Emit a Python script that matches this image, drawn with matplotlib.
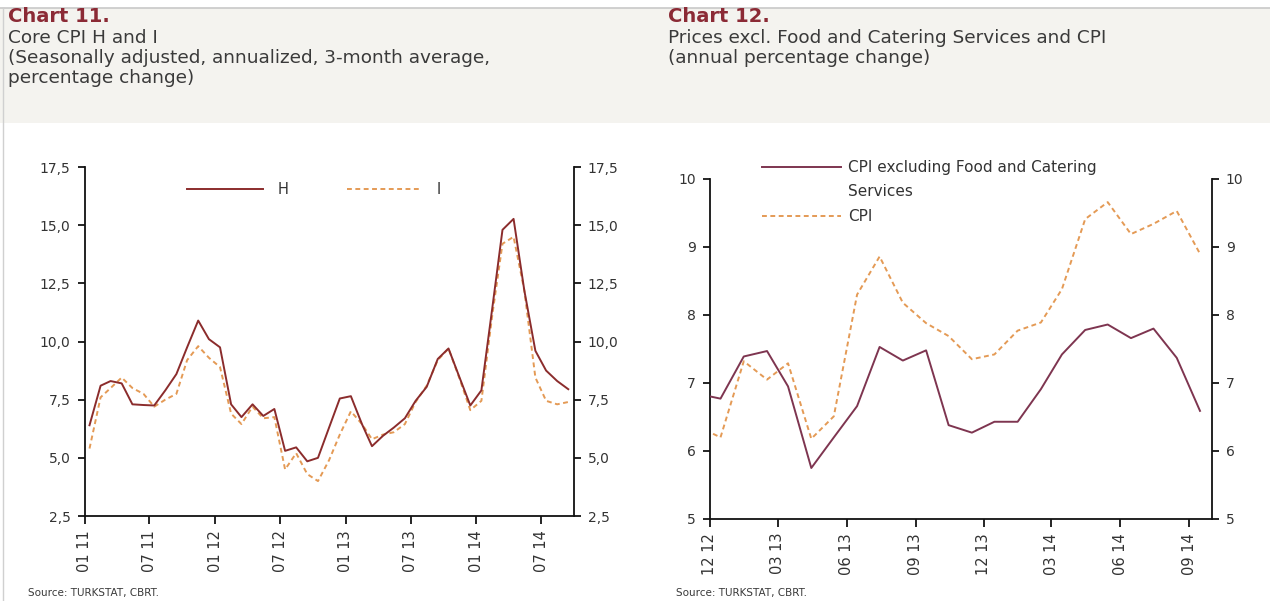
import numpy as np
import pandas as pd
import matplotlib
matplotlib.use("Agg")
import matplotlib.pyplot as plt
import matplotlib.dates as mdates
from matplotlib.ticker import FuncFormatter, MultipleLocator
from matplotlib.patches import Rectangle
from matplotlib.lines import Line2D

# Chart 11: core CPI H and I, monthly 01/11 - 09/14
core_h = [6.4, 8.1, 8.3, 8.2, 7.3, 7.27, 7.25, 7.9, 8.6, 9.75,
          10.9, 10.1, 9.75, 7.3, 6.75, 7.3, 6.8, 7.1, 5.3, 5.45,
          4.85, 5.0, 6.3, 7.55, 7.65, 6.45, 5.5, 5.95, 6.3, 6.7,
          7.45, 8.05, 9.25, 9.7, 8.45, 7.25, 7.9, 11.5, 14.8, 15.27,
          12.2, 9.6, 8.75, 8.3, 7.95]
core_i = [5.4, 7.6, 8.0, 8.45, 8.0, 7.75, 7.2, 7.5, 7.75, 9.2,
          9.8, 9.3, 8.9, 6.9, 6.45, 7.2, 6.7, 6.75, 4.5, 5.2,
          4.3, 4.0, 4.9, 6.0, 7.0, 6.45, 5.8, 6.0, 6.1, 6.45,
          7.4, 8.1, 9.2, 9.7, 8.4, 7.05, 7.45, 11.2, 14.2, 14.5,
          12.2, 8.45, 7.45, 7.3, 7.4]

# Chart 12: annual % change, monthly 11/12 - 09/14
cpi_ex_food = [6.84, 6.77, 7.39, 7.47, 6.95, 5.75, 6.2, 6.66, 7.53, 7.33,
               7.48, 6.38, 6.27, 6.43, 6.43, 6.91, 7.42, 7.78, 7.86, 7.66,
               7.8, 7.37, 6.59]
cpi = [6.36, 6.2, 7.32, 7.05, 7.29, 6.18, 6.51, 8.3, 8.86, 8.18,
       7.88, 7.69, 7.35, 7.42, 7.77, 7.89, 8.38, 9.41, 9.66, 9.19,
       9.34, 9.53, 8.9]

dates11 = pd.date_range("2011-01-01", periods=len(core_h), freq="MS") + pd.Timedelta(days=14)
dates12 = pd.date_range("2012-11-01", periods=len(cpi), freq="MS") + pd.Timedelta(days=14)

W, H = 1270, 601
fig = plt.figure(figsize=(W / 100, H / 100), dpi=100)
fig.patch.set_facecolor("white")

title_red = "#8B2A35"
text_col = "#3a3a3a"
plt.rcParams["font.family"] = ["DejaVu Sans"]

# header band + frame lines
fig.patches.append(Rectangle((0, 1 - 123 / H), 1, 115 / H, transform=fig.transFigure,
                             facecolor="#F4F3EF", edgecolor="none", zorder=0))
fig.lines.append(Line2D([0, 1], [1 - 8 / H, 1 - 8 / H], transform=fig.transFigure, color="#c8c8c8", lw=1.2))
fig.lines.append(Line2D([3 / W, 3 / W], [0, 1 - 8 / H], transform=fig.transFigure, color="#d0d0d0", lw=1.0))


def fy(y):
    return 1 - y / H


# headers
fig.text(8 / W, fy(16), "Chart 11.", color=title_red, fontsize=14, fontweight="bold", va="center")
for y, s in zip([38, 58, 78], ["Core CPI H and I",
                               "(Seasonally adjusted, annualized, 3-month average,",
                               "percentage change)"]):
    fig.text(8 / W, fy(y), s, color=text_col, fontsize=13.3, va="center")
fig.text(668 / W, fy(16), "Chart 12.", color=title_red, fontsize=14, fontweight="bold", va="center")
for y, s in zip([38, 58], ["Prices excl. Food and Catering Services and CPI",
                           "(annual percentage change)"]):
    fig.text(668 / W, fy(y), s, color=text_col, fontsize=13.3, va="center")

fig.text(28 / W, fy(593), "Source: TURKSTAT, CBRT.", color=text_col, fontsize=7.5, va="center")
fig.text(676 / W, fy(593), "Source: TURKSTAT, CBRT.", color=text_col, fontsize=7.5, va="center")


def style_axes(ax):
    ax.spines["top"].set_visible(False)
    for s in ["left", "right", "bottom"]:
        ax.spines[s].set_linewidth(1.3)
        ax.spines[s].set_color("#111111")
    ax.tick_params(axis="y", left=True, right=True, labelleft=True, labelright=True,
                   length=5, width=1.2, pad=5, labelsize=10, labelcolor="#333333")
    ax.tick_params(axis="x", length=6, width=1.2, pad=4, labelsize=10.5, labelcolor="#333333",
                   labelrotation=90)
    ax.set_facecolor("white")


# ---- Chart 11
ax1 = fig.add_axes([84.5 / W, 1 - 516 / H, (574 - 84.5) / W, (516 - 167) / H])
ax1.plot(dates11, core_h, color="#8B2C2C", lw=1.4, label="H", zorder=3)
ax1.plot(dates11, core_i, color="#E49A55", lw=1.4, ls=(0, (2.5, 1.8)), label="I", zorder=2)
ax1.set_ylim(2.5, 17.5)
ax1.yaxis.set_major_locator(MultipleLocator(2.5))
ax1.yaxis.set_major_formatter(FuncFormatter(lambda v, p: f"{v:.1f}".replace(".", ",")))
ax1.set_xlim(pd.Timestamp("2011-01-01"), pd.Timestamp("2014-10-01"))
ax1.set_xticks(pd.date_range("2011-01-01", "2014-07-01", freq="6MS"))
ax1.xaxis.set_major_formatter(mdates.DateFormatter("%m %y"))
style_axes(ax1)
ax1.legend(loc="upper left", bbox_to_anchor=(187 / W, fy(182)), bbox_transform=fig.transFigure,
           ncol=2, frameon=False, fontsize=10.5, handlelength=5.2, handletextpad=1.0,
           columnspacing=4.0, borderpad=0, borderaxespad=0, labelcolor="#333333")

# ---- Chart 12
ax2 = fig.add_axes([710 / W, 1 - 519 / H, (1212 - 710) / W, (519 - 179) / H])
ax2.plot(dates12, cpi_ex_food, color="#7E3550", lw=1.4, zorder=3, clip_on=True)
ax2.plot(dates12, cpi, color="#E49A55", lw=1.4, ls=(0, (2.5, 1.8)), zorder=2, clip_on=True)
ax2.set_ylim(5, 10)
ax2.yaxis.set_major_locator(MultipleLocator(1))
ax2.set_xlim(pd.Timestamp("2012-12-01"), pd.Timestamp("2014-10-01"))
ax2.set_xticks(pd.date_range("2012-12-01", "2014-09-01", freq="3MS"))
ax2.xaxis.set_major_formatter(mdates.DateFormatter("%m %y"))
style_axes(ax2)
handles = [Line2D([], [], color="#7E3550", lw=1.4),
           Line2D([], [], color="none"),
           Line2D([], [], color="#E49A55", lw=1.4, ls=(0, (2.5, 1.8)))]
ax2.legend(handles, ["CPI excluding Food and Catering", "Services", "CPI"],
           loc="upper left", bbox_to_anchor=(762 / W, fy(160)), bbox_transform=fig.transFigure,
           frameon=False, fontsize=11, handlelength=5.2, handletextpad=0.45,
           labelspacing=0.62, borderpad=0, borderaxespad=0, labelcolor="#333333")

fig.savefig("out.png", dpi=100, facecolor=fig.get_facecolor())
